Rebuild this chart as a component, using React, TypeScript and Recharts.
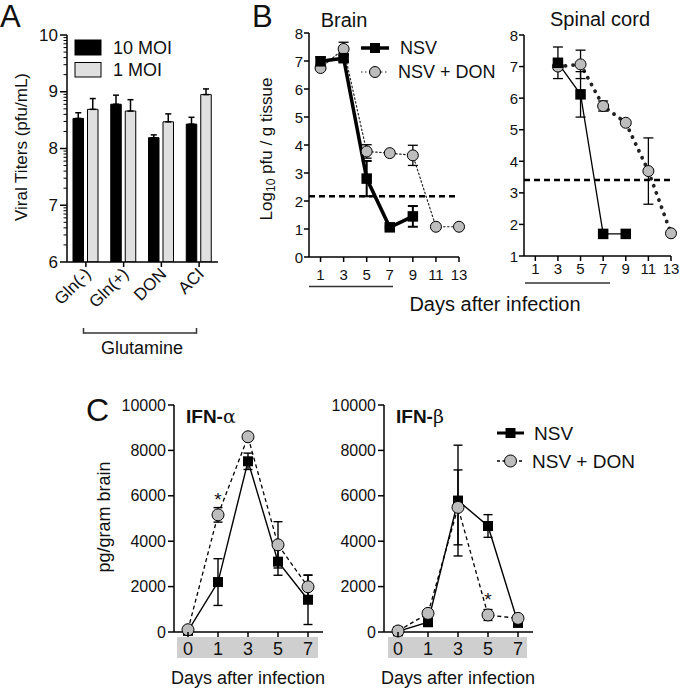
import React from "react";
import { BarChart, Bar, LineChart, Line, XAxis, YAxis, ErrorBar, ReferenceLine } from "recharts";

const FONT = '"Liberation Sans", Arial, Helvetica, sans-serif';

// Panel A - viral titers in culture
const treatments = ["Gln(-)", "Gln(+)", "DON", "ACI"];
const moiLabels = ["10 MOI", "1 MOI"];
const titer10 = [8.53, 8.78, 8.19, 8.43];
const titer10Err = [0.1, 0.16, 0.05, 0.12];
const titer1 = [8.69, 8.66, 8.47, 8.95];
const titer1Err = [0.19, 0.2, 0.14, 0.1];
const titerTicks = [6, 7, 8, 9, 10];

// Panel B - brain / spinal cord titers
const seriesNames = ["NSV", "NSV + DON"];
const dayTicks = [1, 3, 5, 7, 9, 11, 13];
const brainNsvDays = [1, 3, 5, 7, 9];
const brainNsv = [6.99, 7.1, 2.8, 1.06, 1.45];
const brainNsvErr = [0.15, 0.12, 0.63, 0.04, 0.37];
const brainDonDays = [1, 3, 5, 7, 9, 11, 13];
const brainDon = [6.75, 7.43, 3.77, 3.71, 3.63, 1.08, 1.08];
const brainDonErr = [0.05, 0.24, 0.24, 0.04, 0.36, 0, 0];
const brainLimit = 2.17;
const brainTicks = [0, 1, 2, 3, 4, 5, 6, 7, 8];

const spinalNsvDays = [3, 5, 7, 9];
const spinalNsv = [7.12, 6.12, 1.7, 1.7];
const spinalNsvErr = [0.5, 0.72, 0, 0];
const spinalDonDays = [3, 5, 7, 9, 11, 13];
const spinalDon = [7.0, 7.07, 5.75, 5.22, 3.69, 1.72];
const spinalDonErr = [0.1, 0.45, 0.16, 0.05, 1.05, 0];
const spinalLimit = 3.41;
const spinalTicks = [1, 2, 3, 4, 5, 6, 7, 8];

// Panel C - interferons
const ifnDays = ["0", "1", "3", "5", "7"];
const ifnTicks = [0, 2000, 4000, 6000, 8000, 10000];
const ifnaNsv = [50, 2200, 7520, 3100, 1420];
const ifnaNsvErr = [0, 1030, 360, 600, 1090];
const ifnaDon = [100, 5160, 8600, 3840, 1990];
const ifnaDonErr = [0, 320, 0, 1020, 510];
const ifnaSig = [false, true, false, false, false];
const ifnbNsv = [30, 430, 5790, 4670, 400];
const ifnbNsvErr = [0, 0, 2440, 500, 150];
const ifnbDon = [45, 820, 5490, 750, 600];
const ifnbDonErr = [0, 0, 1650, 240, 0];
const ifnbSig = [false, false, false, true, false];

const titerData = treatments.map((name, i) => ({
  name,
  m10: titer10[i],
  m10err: [0, titer10Err[i]],
  m1: titer1[i],
  m1err: [0, titer1Err[i]],
}));
const minorTicks = titerTicks.slice(0, -1).flatMap((n) => [2, 3, 4, 5, 6, 7, 8, 9].map((k) => n + Math.log10(k)));

const toSeries = (days: number[], vals: number[], errs: number[]) =>
  days.map((day, i) => ({ day, v: vals[i], err: [errs[i], errs[i]] }));

const ifnRows = (nsv: number[], nsvErr: number[], don: number[], donErr: number[], sig: boolean[]) =>
  ifnDays.map((day, i) => ({
    day,
    nsv: nsv[i],
    nsvErr: [nsvErr[i], nsvErr[i]],
    don: don[i],
    donErr: [donErr[i], donErr[i]],
    sig: sig[i],
  }));

const ifnaData = ifnRows(ifnaNsv, ifnaNsvErr, ifnaDon, ifnaDonErr, ifnaSig);
const ifnbData = ifnRows(ifnbNsv, ifnbNsvErr, ifnbDon, ifnbDonErr, ifnbSig);

const axisLine = { stroke: "#000", strokeWidth: 1.5 };

const leftTick = (fontSize: number, len: number, gap: number) => (p: any) => (
  <g>
    <line x1={p.x - len} x2={p.x} y1={p.y} y2={p.y} stroke="#000" strokeWidth={1.5} />
    <text x={p.x - len - gap} y={p.y} textAnchor="end" dominantBaseline="central" fontSize={fontSize} fontFamily={FONT} fill="#111">
      {p.payload.value}
    </text>
  </g>
);

const bottomTick = (fontSize: number, len: number, offset: number) => (p: any) => (
  <g>
    <line x1={p.x} x2={p.x} y1={p.y} y2={p.y + len} stroke="#000" strokeWidth={1.5} />
    <text x={p.x} y={p.y + offset} textAnchor="middle" dominantBaseline="central" fontSize={fontSize} fontFamily={FONT} fill="#111">
      {p.payload.value}
    </text>
  </g>
);

const titerYTick = (p: any) => {
  const v = p.payload.value;
  const major = Math.abs(v - Math.round(v)) < 1e-6;
  return (
    <g>
      <line x1={p.x - (major ? 7 : 3.5)} x2={p.x} y1={p.y} y2={p.y} stroke="#000" strokeWidth={major ? 1.5 : 1} />
      {major && (
        <text x={p.x - 9} y={p.y} textAnchor="end" dominantBaseline="central" fontSize={17} fontFamily={FONT} fill="#111">
          {Math.round(v)}
        </text>
      )}
    </g>
  );
};

const treatmentTick = (p: any) => (
  <g>
    <line x1={p.x} x2={p.x} y1={p.y} y2={p.y + 5} stroke="#000" strokeWidth={1.5} />
    <text
      x={p.x + 6}
      y={p.y + 13}
      textAnchor="end"
      transform={`rotate(-45 ${p.x + 6} ${p.y + 13})`}
      fontSize={17}
      fontFamily={FONT}
      fill="#111"
    >
      {p.payload.value}
    </text>
  </g>
);

const squareDot = (size: number) => (p: any) => {
  if (p.cx == null || p.cy == null) return <g key={p.index} />;
  return <rect key={p.index} x={p.cx - size / 2} y={p.cy - size / 2} width={size} height={size} fill="#000" />;
};

const circleDot = (r: number) => (p: any) => {
  if (p.cx == null || p.cy == null) return <g key={p.index} />;
  return (
    <g key={p.index}>
      <circle cx={p.cx} cy={p.cy} r={r} fill="#bdbdbd" stroke="#000" strokeWidth={1} />
      {p.payload && p.payload.sig && (
        <text x={p.cx} y={p.cy - 9} textAnchor="middle" fontSize={19} fontFamily={FONT} fill="#111">
          *
        </text>
      )}
    </g>
  );
};

function TissueChart(props: {
  left: number;
  width: number;
  yWidth: number;
  right: number;
  top: number;
  xHeight: number;
  domain: [number, number];
  ticks: number[];
  limit: number;
  nsv: any[];
  don: any[];
  nsvWidth: number;
  donDash: string;
  donWidth: number;
  labelOffset: number;
}) {
  return (
    <div style={{ position: "absolute", left: props.left, top: 0 }}>
      <LineChart width={props.width} height={300} margin={{ top: props.top, right: props.right, bottom: 0, left: 0 }}>
        <XAxis
          type="number"
          dataKey="day"
          domain={[0, 13]}
          ticks={dayTicks}
          height={props.xHeight}
          axisLine={axisLine}
          tickLine={false}
          tickSize={0}
          tickMargin={0}
          interval={0}
          tick={bottomTick(15, 5, props.labelOffset)}
        />
        <YAxis
          width={props.yWidth}
          domain={props.domain}
          ticks={props.ticks}
          axisLine={axisLine}
          tickLine={false}
          tickSize={0}
          tickMargin={0}
          interval={0}
          tick={leftTick(15, 5, 1)}
        />
        <ReferenceLine y={props.limit} stroke="#000" strokeWidth={2.5} strokeDasharray="6 4" />
        <Line
          data={props.don}
          dataKey="v"
          stroke="#222"
          strokeWidth={props.donWidth}
          strokeDasharray={props.donDash}
          strokeLinecap="round"
          dot={circleDot(5.5)}
          activeDot={false}
          isAnimationActive={false}
        >
          <ErrorBar dataKey="err" width={5} stroke="#000" strokeWidth={1.3} />
        </Line>
        <Line
          data={props.nsv}
          dataKey="v"
          stroke="#000"
          strokeWidth={props.nsvWidth}
          dot={squareDot(10.5)}
          activeDot={false}
          isAnimationActive={false}
        >
          <ErrorBar dataKey="err" width={5} stroke="#000" strokeWidth={props.nsvWidth > 2 ? 2 : 1.3} />
        </Line>
      </LineChart>
    </div>
  );
}

function IfnChart(props: { left: number; data: any[] }) {
  return (
    <div style={{ position: "absolute", left: props.left, top: 380 }}>
      <LineChart width={240} height={309} data={props.data} margin={{ top: 25, right: 7, bottom: 0, left: 0 }}>
        <XAxis
          dataKey="day"
          height={57}
          padding={{ left: 14, right: 15 }}
          axisLine={axisLine}
          tickLine={false}
          tickSize={0}
          tickMargin={0}
          interval={0}
          tick={bottomTick(18, 5, 16.5)}
        />
        <YAxis
          width={84}
          domain={[0, 10000]}
          ticks={ifnTicks}
          axisLine={axisLine}
          tickLine={false}
          tickSize={0}
          tickMargin={0}
          interval={0}
          tick={leftTick(16, 6, 2)}
        />
        <Line dataKey="nsv" stroke="#000" strokeWidth={1.4} dot={squareDot(10)} activeDot={false} isAnimationActive={false}>
          <ErrorBar dataKey="nsvErr" width={4.5} stroke="#000" strokeWidth={1.4} />
        </Line>
        <Line
          dataKey="don"
          stroke="#000"
          strokeWidth={1.3}
          strokeDasharray="4 3"
          dot={circleDot(6)}
          activeDot={false}
          isAnimationActive={false}
        >
          <ErrorBar dataKey="donErr" width={4.5} stroke="#000" strokeWidth={1.4} />
        </Line>
      </LineChart>
    </div>
  );
}

export default function App() {
  return (
    <div
      style={{
        position: "absolute",
        left: 0,
        top: 0,
        width: 680,
        height: 689,
        background: "#fff",
        overflow: "hidden",
        fontFamily: FONT,
      }}
    >
      <div style={{ position: "absolute", left: 177, top: 637, width: 141, height: 21, background: "#cfcfcf" }} />
      <div style={{ position: "absolute", left: 388, top: 637, width: 139, height: 21, background: "#cfcfcf" }} />

      <div style={{ position: "absolute", left: 0, top: 0 }}>
        <BarChart width={230} height={340} data={titerData} margin={{ top: 35, right: 12, bottom: 0, left: 0 }} barSize={10.5} barGap={4}>
          <XAxis
            dataKey="name"
            height={78}
            axisLine={axisLine}
            tickLine={false}
            tickSize={0}
            tickMargin={0}
            interval={0}
            tick={treatmentTick}
          />
          <YAxis
            width={67}
            domain={[6, 10]}
            ticks={[...titerTicks, ...minorTicks]}
            allowDataOverflow
            axisLine={axisLine}
            tickLine={false}
            tickSize={0}
            tickMargin={0}
            interval={0}
            tick={titerYTick}
          />
          <Bar dataKey="m10" fill="#000" stroke="#000" strokeWidth={1} isAnimationActive={false}>
            <ErrorBar dataKey="m10err" width={3} stroke="#000" strokeWidth={1.5} />
          </Bar>
          <Bar dataKey="m1" fill="#e0e0e0" stroke="#000" strokeWidth={1} isAnimationActive={false}>
            <ErrorBar dataKey="m1err" width={3} stroke="#000" strokeWidth={1.5} />
          </Bar>
        </BarChart>
      </div>

      <TissueChart
        left={240}
        width={230}
        yWidth={69}
        right={11}
        top={33}
        xHeight={43}
        domain={[0, 8]}
        ticks={brainTicks}
        limit={brainLimit}
        nsv={toSeries(brainNsvDays, brainNsv, brainNsvErr)}
        don={toSeries(brainDonDays, brainDon, brainDonErr)}
        nsvWidth={3.5}
        donDash="1.5 2.5"
        donWidth={1.2}
        labelOffset={17.5}
      />
      <TissueChart
        left={480}
        width={200}
        yWidth={44}
        right={9}
        top={35}
        xHeight={44}
        domain={[1, 8]}
        ticks={spinalTicks}
        limit={spinalLimit}
        nsv={toSeries(spinalNsvDays, spinalNsv, spinalNsvErr)}
        don={toSeries(spinalDonDays, spinalDon, spinalDonErr)}
        nsvWidth={1.3}
        donDash="0.1 7.5"
        donWidth={3.8}
        labelOffset={12}
      />

      <IfnChart left={90} data={ifnaData} />
      <IfnChart left={300} data={ifnbData} />

      <svg width={680} height={689} style={{ position: "absolute", left: 0, top: 0, pointerEvents: "none" }} fontFamily={FONT} fill="#111">
        {/* A */}
        <text x={0} y={27} fontSize={31}>A</text>
        <text transform="translate(21 147) rotate(-90)" textAnchor="middle" dominantBaseline="central" fontSize={17}>
          Viral Titers (pfu/mL)
        </text>
        <rect x={75} y={40} width={26} height={15} fill="#000" stroke="#000" />
        <rect x={75} y={62.5} width={26} height={14.5} fill="#e0e0e0" stroke="#000" />
        <text x={113} y={48} dominantBaseline="central" fontSize={18}>{moiLabels[0]}</text>
        <text x={113} y={70} dominantBaseline="central" fontSize={18}>{moiLabels[1]}</text>
        <path d="M83.5 328 V333 H196.5 V328" stroke="#333" strokeWidth={1.5} fill="none" />
        <text x={142} y={348} textAnchor="middle" dominantBaseline="central" fontSize={18}>Glutamine</text>

        {/* B */}
        <text x={252} y={27} fontSize={31}>B</text>
        <text x={344} y={20} textAnchor="middle" dominantBaseline="central" fontSize={20}>Brain</text>
        <text x={600} y={19} textAnchor="middle" dominantBaseline="central" fontSize={20}>Spinal cord</text>
        <text transform="translate(266 149) rotate(-90)" textAnchor="middle" dominantBaseline="central" fontSize={17}>
          Log<tspan fontSize={12} dy={5}>10</tspan>
          <tspan dy={-5}> pfu / g tissue</tspan>
        </text>
        <line x1={361} x2={389} y1={48} y2={48} stroke="#000" strokeWidth={3.5} />
        <rect x={370} y={43} width={10} height={10} fill="#000" />
        <text x={400} y={48} dominantBaseline="central" fontSize={18}>{seriesNames[0]}</text>
        <line x1={361} x2={389} y1={72} y2={72} stroke="#222" strokeWidth={1.2} strokeDasharray="1.5 2.5" />
        <circle cx={375} cy={72} r={5.5} fill="#bdbdbd" stroke="#000" />
        <text x={398} y={72} dominantBaseline="central" fontSize={18}>{seriesNames[1]}</text>
        <line x1={309} x2={393} y1={286.5} y2={286.5} stroke="#333" strokeWidth={1.5} />
        <line x1={525} x2={610} y1={283} y2={283} stroke="#333" strokeWidth={1.5} />
        <text x={495} y={304} textAnchor="middle" dominantBaseline="central" fontSize={20}>Days after infection</text>

        {/* C */}
        <text x={86} y={421} fontSize={32}>C</text>
        <text transform="translate(104 517) rotate(-90)" textAnchor="middle" dominantBaseline="central" fontSize={18}>
          pg/gram brain
        </text>
        <text x={186} y={416} dominantBaseline="central" fontSize={19} fontWeight="bold">
          IFN-<tspan fontWeight="normal" fontFamily='"DejaVu Serif", serif'>α</tspan>
        </text>
        <text x={396} y={416} dominantBaseline="central" fontSize={19} fontWeight="bold">
          IFN-<tspan fontWeight="normal" fontFamily='"DejaVu Serif", serif'>β</tspan>
        </text>
        <line x1={497} x2={524} y1={433} y2={433} stroke="#000" strokeWidth={3} />
        <rect x={505.5} y={428} width={10} height={10} fill="#000" />
        <text x={534} y={433} dominantBaseline="central" fontSize={19}>{seriesNames[0]}</text>
        <line x1={497} x2={524} y1={461} y2={461} stroke="#000" strokeWidth={1.3} strokeDasharray="3 2.5" />
        <circle cx={510.5} cy={461} r={6} fill="#bdbdbd" stroke="#000" />
        <text x={532} y={461} dominantBaseline="central" fontSize={19}>{seriesNames[1]}</text>
        <text x={248} y={678} textAnchor="middle" dominantBaseline="central" fontSize={18}>Days after infection</text>
        <text x={458} y={678} textAnchor="middle" dominantBaseline="central" fontSize={18}>Days after infection</text>
      </svg>
    </div>
  );
}
